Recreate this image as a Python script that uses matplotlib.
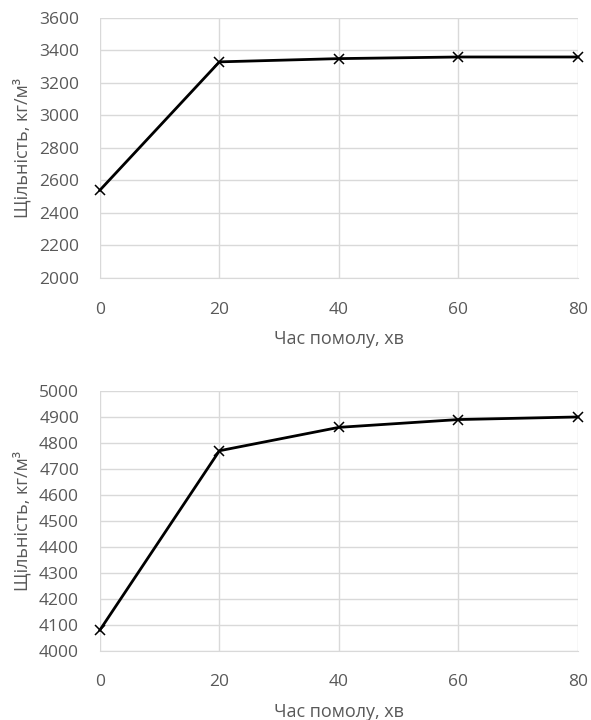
import matplotlib
matplotlib.use("Agg")
import matplotlib.pyplot as plt

# milling time, min
time_min = [0, 20, 40, 60, 80]
# density for the two powders, kg/m3
density_a = [2540, 3330, 3350, 3360, 3360]
density_b = [4080, 4770, 4860, 4890, 4900]

plt.rcParams['font.family'] = ['Open Sans', 'DejaVu Sans']
text_color = '#595959'
grid_color = '#d9d9d9'

fig = plt.figure(figsize=(5.91, 7.2), dpi=100)
ax1 = fig.add_axes([0.169, 0.614, 0.809, 0.361])
ax2 = fig.add_axes([0.169, 0.096, 0.809, 0.361])


def style_axis(ax, y, ylim, ystep):
    ax.plot(time_min, y, color='black', lw=2, marker='x', ms=7, mew=1.1, zorder=3, clip_on=False)
    ax.set_xlim(0, 80)
    ax.set_ylim(*ylim)
    ax.set_xticks(time_min)
    ax.set_yticks(range(ylim[0], ylim[1] + 1, ystep))
    ax.grid(True, color=grid_color, lw=1)
    ax.set_axisbelow(True)
    for side in ['top', 'right', 'left']:
        ax.spines[side].set_visible(False)
    ax.spines['bottom'].set_color(grid_color)
    ax.tick_params(length=0, colors=text_color, labelsize=12.5)
    ax.tick_params(axis='y', pad=15)
    ax.tick_params(axis='x', pad=17)
    ax.set_xlabel('Час помолу, хв', color=text_color, fontsize=13)
    ax.set_ylabel('Щільність, кг/м³', color=text_color, fontsize=13)
    # label positions in axes fraction
    ax.xaxis.set_label_coords(0.5, -0.2)
    ax.yaxis.set_label_coords(-0.144, 0.5)


style_axis(ax1, density_a, (2000, 3600), 200)
style_axis(ax2, density_b, (4000, 5000), 100)

fig.savefig('out.png', dpi=100)
